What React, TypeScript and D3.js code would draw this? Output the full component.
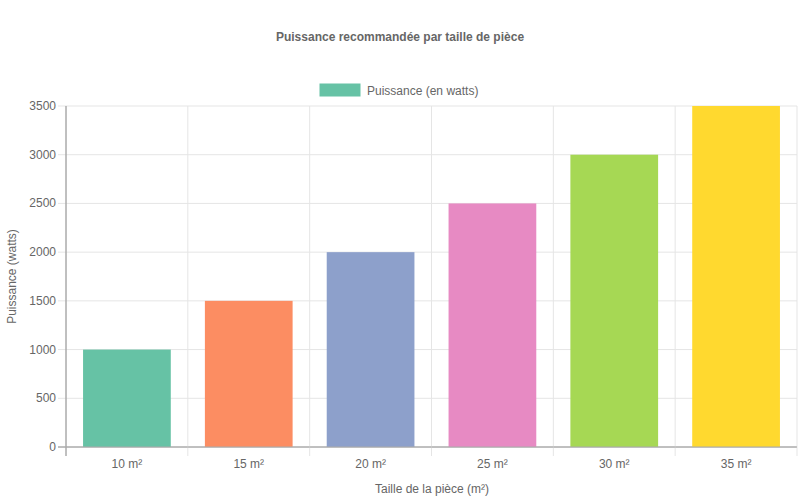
import * as d3 from "d3";

const categories = ["10 m²", "15 m²", "20 m²", "25 m²", "30 m²", "35 m²"];
const watts = [1000, 1500, 2000, 2500, 3000, 3500];
const colors = ["#66c2a5", "#fc8d62", "#8da0cb", "#e78ac3", "#a6d854", "#ffd92f"];
const yTicks = [0, 500, 1000, 1500, 2000, 2500, 3000, 3500];

const W = 800;
const H = 500;
const m = { left: 66, right: 3, top: 106, bottom: 53 };
const font = "'Liberation Sans', Arial, Helvetica, sans-serif";

export default function App() {
  const x = d3
    .scaleBand<string>()
    .domain(categories)
    .range([m.left, W - m.right]);
  const y = d3
    .scaleLinear()
    .domain([0, 3500])
    .range([H - m.bottom, m.top]);
  const bw = x.bandwidth() * 0.72;
  const bottom = H - m.bottom;

  return (
    <svg
      width={W}
      height={H}
      style={{ position: "absolute", left: 0, top: 0, fontFamily: font }}
    >
      <rect width={W} height={H} fill="#fff" />
      <text x={400} y={41} textAnchor="middle" fontSize={12} fontWeight="bold" fill="#666">
        Puissance recommandée par taille de pièce
      </text>
      {/* legend */}
      <rect x={320} y={84} width={40} height={12} fill={colors[0]} stroke={colors[0]} />
      <text x={367} y={94.5} fontSize={12} fill="#666">
        Puissance (en watts)
      </text>
      {/* grid */}
      {yTicks.map((t) => (
        <g key={t}>
          <line x1={m.left - 8} x2={W - m.right} y1={y(t)} y2={y(t)} stroke={t === 0 ? "#aaa" : "#e5e5e5"} />
          <text x={m.left - 10} y={y(t) + 4} textAnchor="end" fontSize={12} fill="#666">
            {t}
          </text>
        </g>
      ))}
      {categories.map((c, i) => (
        <line
          key={c}
          x1={x(c)!}
          x2={x(c)!}
          y1={m.top}
          y2={bottom + 9}
          stroke={i === 0 ? "#aaa" : "#e5e5e5"}
        />
      ))}
      <line x1={W - m.right} x2={W - m.right} y1={m.top} y2={bottom + 9} stroke="#e5e5e5" />
      {/* bars */}
      {categories.map((c, i) => (
        <rect
          key={c}
          x={x(c)! + (x.bandwidth() - bw) / 2}
          y={y(watts[i])}
          width={bw}
          height={bottom - y(watts[i])}
          fill={colors[i]}
        />
      ))}
      <line x1={m.left - 8} x2={W - m.right} y1={bottom} y2={bottom} stroke="#aaa" />
      <line x1={m.left} x2={m.left} y1={m.top} y2={bottom + 9} stroke="#aaa" />
      {categories.map((c) => (
        <text key={c} x={x(c)! + x.bandwidth() / 2} y={468} textAnchor="middle" fontSize={12} fill="#666">
          {c}
        </text>
      ))}
      <text x={432} y={493} textAnchor="middle" fontSize={12} fill="#666">
        Taille de la pièce (m²)
      </text>
      <text
        transform={`translate(16, ${(m.top + bottom) / 2}) rotate(-90)`}
        textAnchor="middle"
        fontSize={12}
        fill="#666"
      >
        Puissance (watts)
      </text>
    </svg>
  );
}
